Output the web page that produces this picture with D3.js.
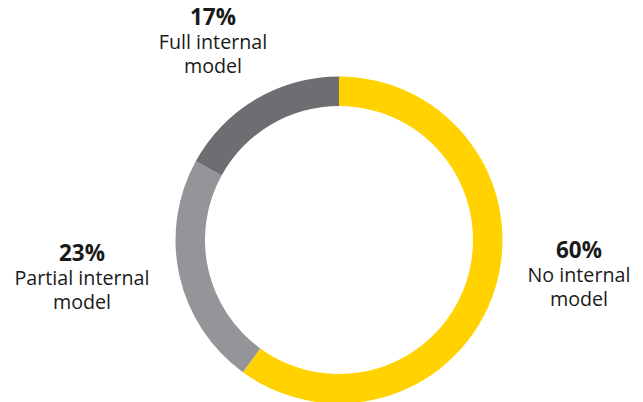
<!DOCTYPE html>
<html><head><meta charset="utf-8">
<script src="https://cdn.jsdelivr.net/npm/d3@7"></script>
<style>html,body{margin:0;padding:0;background:#fff;}</style>
</head><body>
<svg id="c" width="643" height="402"></svg>
<script>
const categories = ["No internal model", "Partial internal model", "Full internal model"];
const values = [60, 23, 17];
const labelLines = [["No internal", "model"], ["Partial internal", "model"], ["Full internal", "model"]];
const colors = ["#FFD200", "#939598", "#6D6E71"];

const svg = d3.select("#c");
const cx = 339, cy = 240, rOuter = 163.5, rInner = 134;
const pie = d3.pie().sort(null).value(d => d)(values);
const arc = d3.arc().innerRadius(rInner).outerRadius(rOuter);
const g = svg.append("g").attr("transform", `translate(${cx},${cy})`);
g.selectAll("path").data(pie).enter().append("path")
  .attr("d", arc).attr("fill", (d, i) => colors[i]);

const labelPos = [[579, 258], [82, 261], [213, 25]];
const font = "'Open Sans', Lato, sans-serif";
labelPos.forEach((p, i) => {
  const t = svg.append("text").attr("text-anchor", "middle").attr("fill", "#1a1a1a")
    .style("font-family", font);
  t.append("tspan").attr("x", p[0]).attr("y", p[1]).style("font-weight", 700)
    .style("font-size", "22.5px").text(values[i] + "%");
  labelLines[i].forEach((l, j) => {
    t.append("tspan").attr("x", p[0]).attr("y", p[1] + 24 * (j + 1))
      .style("font-size", "19.7px").text(l);
  });
});
</script>
</body></html>
